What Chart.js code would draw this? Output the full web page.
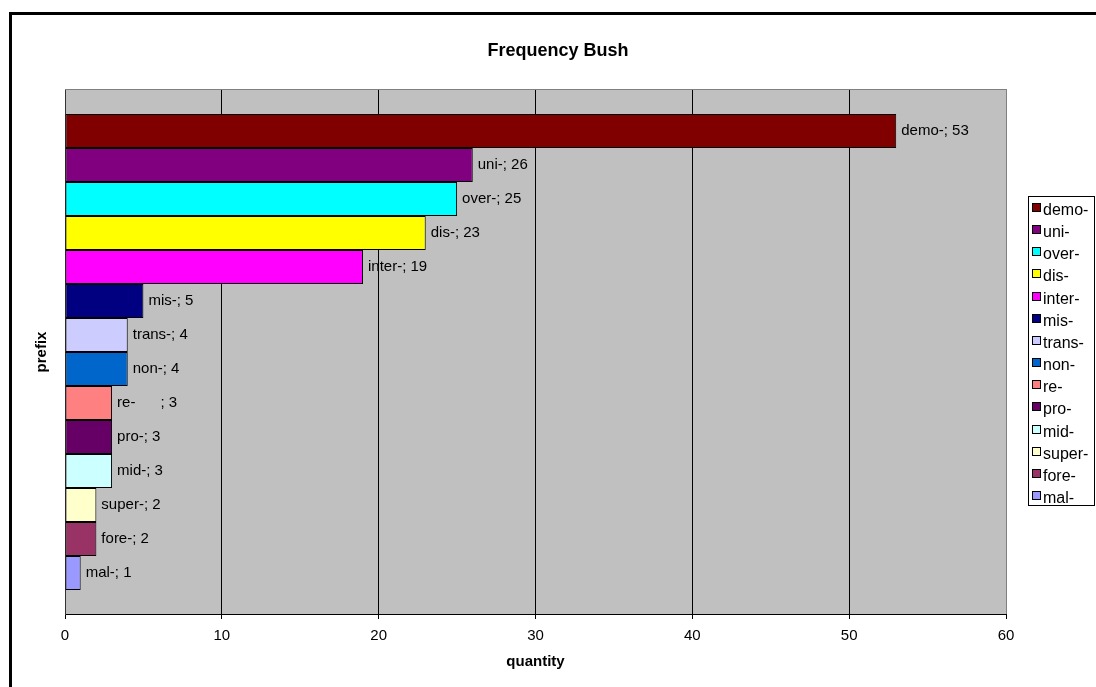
<!DOCTYPE html>
<html>
<head>
<meta charset="utf-8">
<title>Frequency Bush</title>
<script src="https://cdn.jsdelivr.net/npm/chart.js@4/dist/chart.umd.min.js"></script>
<style>
  html, body { margin: 0; padding: 0; background: #ffffff; }
  #wrap { width: 1096px; height: 687px; position: relative; }
  canvas { display: block; }
</style>
</head>
<body>
<div id="wrap"><canvas id="chart" width="1096" height="687"></canvas></div>
<script>
// Prefix counts (one series per prefix, largest first)
const prefixes = ['demo-', 'uni-', 'over-', 'dis-', 'inter-', 'mis-', 'trans-', 'non-', 're-      ', 'pro-', 'mid-', 'super-', 'fore-', 'mal-'];
const quantities = [53, 26, 25, 23, 19, 5, 4, 4, 3, 3, 3, 2, 2, 1];
const fills = ['#800000', '#800080', '#00FFFF', '#FFFF00', '#FF00FF', '#000080', '#CCCCFF', '#0066CC', '#FF8080', '#660066', '#CCFFFF', '#FFFFCC', '#993366', '#9999FF'];

// Value axis range
const axisMin = 0;
const axisMax = 60;
const axisStep = 10;

const FONT = '"Liberation Sans", Arial, sans-serif';

// 14 bars of 34px inside a 524px tall category band
const bandShare = 476 / 524;

const datasets = prefixes.map((name, i) => ({
  label: name,
  data: [quantities[i]],
  backgroundColor: fills[i],
  borderColor: '#000000',
  borderWidth: 1,
  borderSkipped: false,
  barPercentage: 1.0,
  categoryPercentage: bandShare
}));

// Outer frame and grey plot background
const frame = {
  id: 'frame',
  beforeDraw(chart) {
    const { ctx, chartArea: a } = chart;
    ctx.save();
    ctx.fillStyle = '#000000';
    ctx.fillRect(9, 12, 3, chart.height);
    ctx.fillRect(9, 12, chart.width, 3);
    ctx.fillStyle = '#C0C0C0';
    ctx.fillRect(a.left, a.top - 1, a.right - a.left + 1, a.bottom - a.top + 1);
    ctx.strokeStyle = '#808080';
    ctx.lineWidth = 1;
    ctx.beginPath();
    ctx.moveTo(a.left, a.top - 0.5);
    ctx.lineTo(a.right + 1, a.top - 0.5);
    ctx.stroke();
    ctx.restore();
  }
};

// "name; value" labels at the end of each bar
const barTags = {
  id: 'barTags',
  afterDatasetsDraw(chart) {
    const { ctx } = chart;
    ctx.save();
    ctx.font = '15px ' + FONT;
    ctx.fillStyle = '#000000';
    ctx.textAlign = 'left';
    ctx.textBaseline = 'middle';
    chart.data.datasets.forEach((ds, i) => {
      const el = chart.getDatasetMeta(i).data[0];
      if (!el) return;
      ctx.fillText(ds.label + '; ' + ds.data[0], el.x + 5, el.y);
    });
    ctx.restore();
  }
};

// Boxed legend on the right
const sideLegend = {
  id: 'sideLegend',
  afterDraw(chart) {
    const { ctx } = chart;
    const bx = 1028, by = 196, bw = 67, bh = 310;
    const rowGap = 22.15;
    ctx.save();
    ctx.fillStyle = '#ffffff';
    ctx.fillRect(bx, by, bw, bh);
    ctx.strokeStyle = '#000000';
    ctx.lineWidth = 1;
    ctx.strokeRect(bx + 0.5, by + 0.5, bw - 1, bh - 1);
    ctx.font = '16px ' + FONT;
    ctx.textAlign = 'left';
    ctx.textBaseline = 'alphabetic';
    chart.data.datasets.forEach((ds, i) => {
      const base = by + 19 + i * rowGap;
      const top = Math.round(base - 12);
      ctx.fillStyle = ds.backgroundColor;
      ctx.fillRect(bx + 4, top, 9, 9);
      ctx.strokeStyle = '#000000';
      ctx.strokeRect(bx + 4.5, top + 0.5, 8, 8);
      ctx.fillStyle = '#000000';
      ctx.fillText(ds.label.trim(), bx + 15, base);
    });
    ctx.restore();
  }
};

new Chart(document.getElementById('chart'), {
  type: 'bar',
  data: { labels: [''], datasets },
  plugins: [frame, barTags, sideLegend],
  options: {
    indexAxis: 'y',
    responsive: false,
    animation: false,
    devicePixelRatio: 1,
    layout: { padding: { left: 20, right: 0, top: 0, bottom: 0 } },
    plugins: {
      legend: { display: false },
      tooltip: { enabled: false },
      title: {
        display: true,
        text: 'Frequency Bush',
        color: '#000000',
        font: { family: FONT, size: 18, weight: 'bold', lineHeight: 1.2 },
        padding: { top: 40, bottom: 28.4 }
      }
    },
    scales: {
      x: {
        type: 'linear',
        min: axisMin,
        max: axisMax,
        afterFit(s) { s.height = 73; },
        ticks: {
          stepSize: axisStep,
          color: '#000000',
          padding: 8,
          font: { family: FONT, size: 15 }
        },
        grid: {
          color: c => (c.tick && c.tick.value === axisMax) ? '#808080' : '#000000',
          lineWidth: 1,
          drawTicks: true,
          tickLength: 5,
          tickColor: '#000000'
        },
        border: { display: true, color: '#000000', width: 1 },
        title: {
          display: true,
          text: 'quantity',
          color: '#000000',
          font: { family: FONT, size: 15, weight: 'bold', lineHeight: 1.2 },
          padding: { top: 0, bottom: 16 }
        }
      },
      y: {
        type: 'category',
        afterFit(s) { s.width = 45; },
        ticks: { display: false },
        grid: { display: false, drawTicks: false },
        border: { display: true, color: '#333333', width: 1 },
        title: {
          display: true,
          text: 'prefix',
          color: '#000000',
          font: { family: FONT, size: 15, weight: 'bold', lineHeight: 1.2 },
          padding: { top: 13, bottom: 0 }
        }
      },
      legendSpace: {
        type: 'linear',
        position: 'right',
        display: true,
        afterFit(s) { s.width = 90; },
        ticks: { display: false },
        grid: { display: false, drawTicks: false },
        border: { display: false }
      }
    }
  }
});
</script>
</body>
</html>
